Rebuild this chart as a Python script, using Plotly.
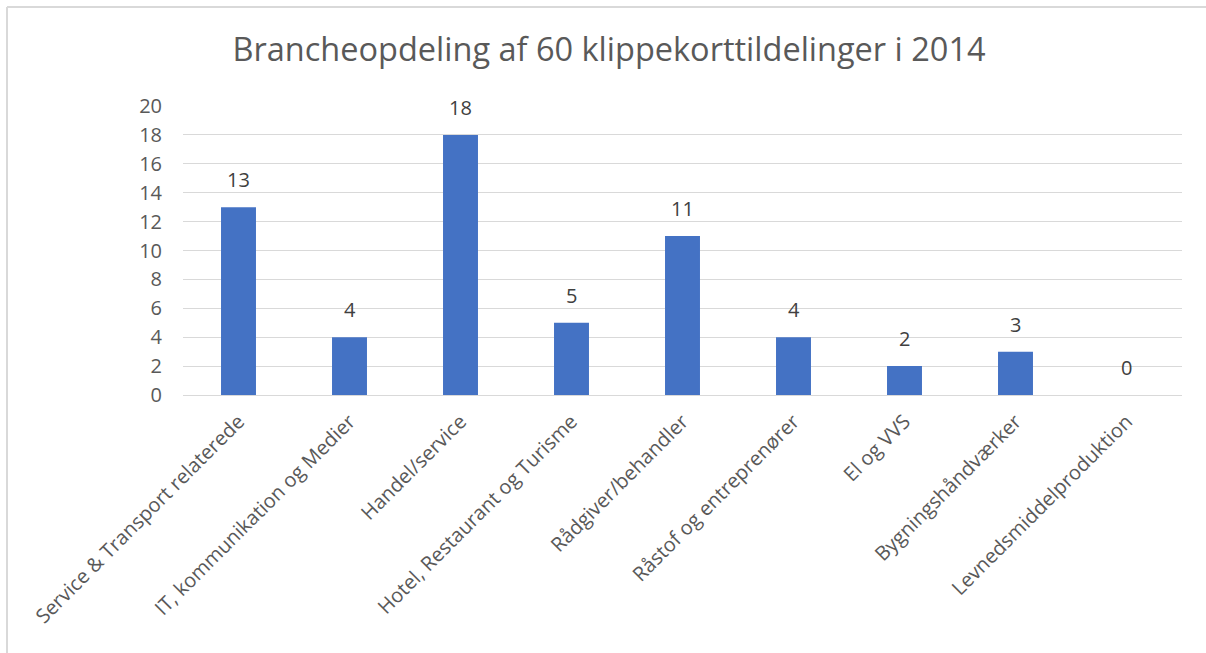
import plotly.graph_objects as go

categories = [
    "Service & Transport relaterede",
    "IT, kommunikation og Medier",
    "Handel/service",
    "Hotel, Restaurant og Turisme",
    "Rådgiver/behandler",
    "Råstof og entreprenører",
    "El og VVS",
    "Bygningshåndværker",
    "Levnedsmiddelproduktion",
]
values = [13, 4, 18, 5, 11, 4, 2, 3, 0]
y_ticks = [0, 2, 4, 6, 8, 10, 12, 14, 16, 18, 20]
title_text = "Brancheopdeling af 60 klippekorttildelinger i 2014"

FONT = "Open Sans"
W, H = 1206, 653
L, R, T, B = 183, 24, 106, 258
pw, ph = W - L - R, H - T - B

fig = go.Figure()
fig.add_trace(go.Bar(
    x=categories, y=values,
    marker=dict(color="#4472C4", line=dict(width=0)),
    width=0.315,
    hoverinfo="x+y",
))

for c, v in zip(categories, values):
    fig.add_annotation(x=c, y=v, text=str(v), showarrow=False,
                       yanchor="bottom", yshift=12,
                       font=dict(family=FONT, size=20, color="#404040"))

# chart border (top and left edges visible)
fig.add_shape(type="line", xref="paper", yref="paper",
              x0=(7 - L) / pw, x1=(W + 5 - L) / pw,
              y0=1 + (T - 7) / ph, y1=1 + (T - 7) / ph,
              line=dict(color="#d9d9d9", width=2))
fig.add_shape(type="line", xref="paper", yref="paper",
              x0=(7 - L) / pw, x1=(7 - L) / pw,
              y0=1 + (T - 7) / ph, y1=-(B + 5) / ph,
              line=dict(color="#d9d9d9", width=2))

fig.update_layout(
    width=W, height=H,
    margin=dict(l=L, r=R, t=T, b=B, autoexpand=False),
    paper_bgcolor="white", plot_bgcolor="white",
    title=dict(text=title_text, x=0.505, xanchor="center",
               y=1 - 50 / H, yanchor="middle",
               font=dict(family=FONT, size=32.5, color="#595959")),
    showlegend=False,
    xaxis=dict(tickangle=-45, tickfont=dict(family=FONT, size=20, color="#595959"),
               showgrid=False, showline=False, ticks="", ticklabelstandoff=10),
    yaxis=dict(range=[0, 20], tickvals=y_ticks,
               tickfont=dict(family=FONT, size=20, color="#595959"),
               showgrid=True, gridcolor="#d9d9d9", gridwidth=1,
               zeroline=True, zerolinecolor="#d9d9d9", zerolinewidth=1,
               showline=False, ticks="", ticklabelstandoff=20),
)

fig.write_html("out.html", config={"displayModeBar": False},
               post_script="document.body.style.margin='0';")
